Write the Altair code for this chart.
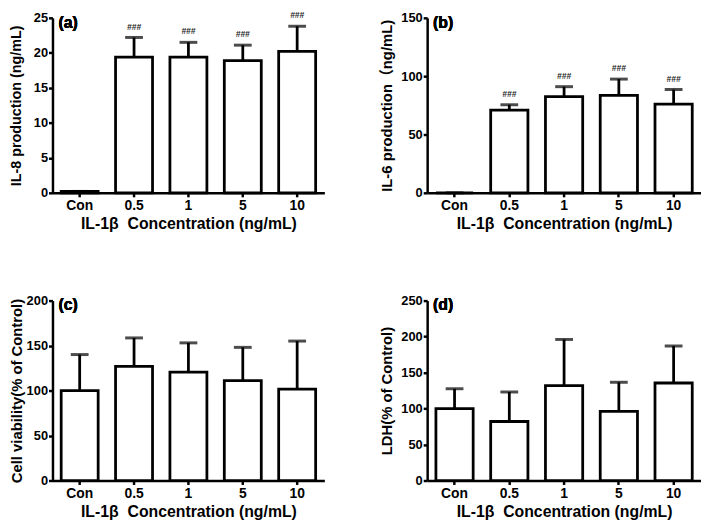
import altair as alt
import pandas as pd

cats = ["Con", "0.5", "1", "5", "10"]

il8_mean = [0.2, 19.4, 19.4, 18.9, 20.2]
il8_upper = [0.2, 22.2, 21.5, 21.1, 23.8]
il8_sig = ["", "###", "###", "###", "###"]

il6_mean = [0, 71, 82.5, 83.5, 76]
il6_upper = [0, 75.5, 91, 97.5, 88.5]
il6_sig = ["", "###", "###", "###", "###"]

via_mean = [100, 127, 120.5, 111, 101.5]
via_upper = [140, 158.5, 153, 148, 155]
via_sig = ["", "", "", "", ""]

ldh_mean = [100, 82, 132, 96, 135.5]
ldh_upper = [127.5, 123, 196, 136.5, 187]
ldh_sig = ["", "", "", "", ""]

xtitle = "IL-1β\u00a0 Concentration (ng/mL)"
FONT = "Liberation Sans, Arial, Noto Sans CJK SC, sans-serif"


def panel(mean, upper, sig, ymax, step, ytitle, label, w, h, ytsize, tpad):
    df = pd.DataFrame({"cat": cats, "mean": mean, "upper": upper, "sig": sig})
    base = alt.Chart(df)
    x = alt.X(
        "cat:N",
        sort=cats,
        scale=alt.Scale(paddingInner=0.32, paddingOuter=0.16),
        axis=alt.Axis(
            title=xtitle, labelAngle=0, labelFontSize=14, titleFontSize=16,
            tickSize=4, labelPadding=2, titlePadding=3,
        ),
    )
    ticks = list(range(0, ymax + 1, step))
    yaxis = alt.Axis(
        values=ticks, tickCount=len(ticks), title=ytitle, grid=False,
        labelFontSize=13, titleFontSize=ytsize, tickSize=4, labelPadding=1,
        titlePadding=tpad, labelOverlap=False, minExtent=0,
    )
    ysc = alt.Scale(domain=[0, ymax], nice=False)

    def Y(field):
        return alt.Y(field, type="quantitative", scale=ysc, axis=yaxis, title=ytitle)

    bars = base.mark_bar(fill="white", stroke="black", strokeWidth=2.8).encode(x=x, y=Y("mean"))
    rule = base.mark_rule(color="black", strokeWidth=2.8).encode(
        x=x, y=Y("mean"), y2="upper:Q"
    )
    cap = base.mark_tick(color="black", size=18, thickness=3).encode(x=x, y=Y("upper"))
    txt = base.mark_text(
        dy=-11, fontSize=8.5, fontStyle="italic", fontWeight="bold", color="#222", font=FONT
    ).encode(x=x, y=Y("upper"), text="sig:N")
    lab = base.mark_text(
        text=label, align="left", baseline="middle", fontSize=16,
        fontWeight="bold", font=FONT, color="black",
    ).encode(x=alt.value(6), y=alt.value(5))
    return alt.layer(bars, rule, cap, txt, lab).properties(width=w, height=h)


pa = panel(il8_mean, il8_upper, il8_sig, 25, 5, "IL-8 production (ng/mL)", "(a)", 275, 177, 14.5, 10)
pb = panel(il6_mean, il6_upper, il6_sig, 150, 50, "IL-6 production（ng/mL)", "(b)", 277, 177, 15, 6)
pc = panel(via_mean, via_upper, via_sig, 200, 50, "Cell viability(% of Control)", "(c)", 275, 182, 15, 2)
pd_ = panel(ldh_mean, ldh_upper, ldh_sig, 250, 50, "LDH(% of Control)", "(d)", 277, 182, 15, 6)

chart = alt.concat(
    pa, pb, pc, pd_, columns=2, spacing={"row": 109, "column": 104}, bounds="flush"
).properties(
    padding={"left": 0, "top": 0, "right": 0, "bottom": 0}
).configure_view(stroke=None).configure_axis(
    domainColor="black", domainWidth=2.5, tickColor="black", tickWidth=2.5,
    labelColor="black", titleColor="black", labelFont=FONT, titleFont=FONT,
    labelFontWeight="bold", titleFontWeight="bold",
)

chart.save("out.html", embed_options={"renderer": "svg", "actions": False})
